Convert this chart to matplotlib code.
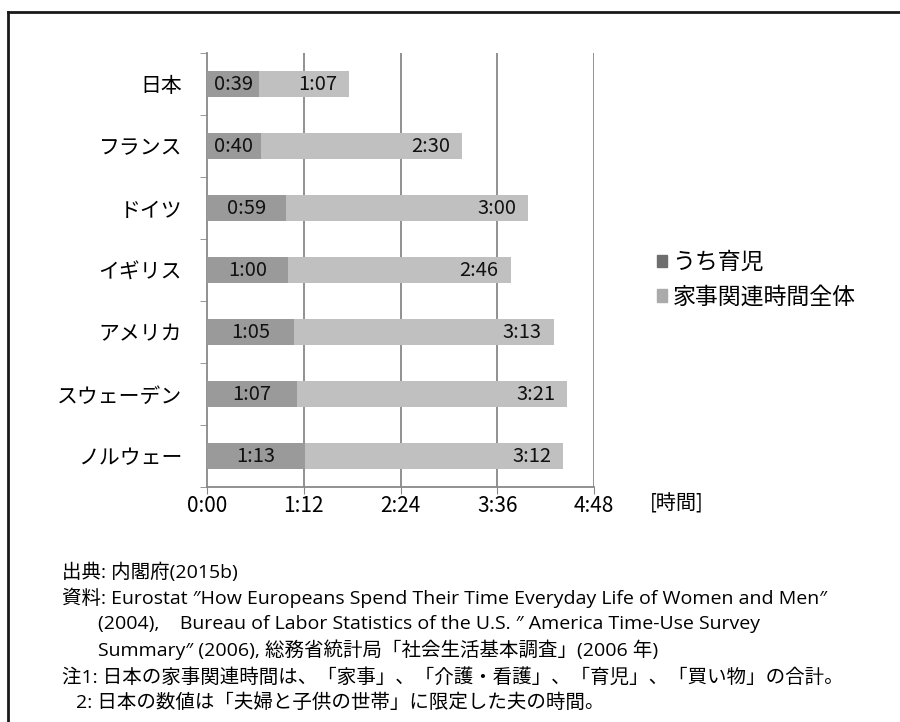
import matplotlib
matplotlib.use("Agg")
import matplotlib.pyplot as plt
from matplotlib.lines import Line2D
from matplotlib.patches import Patch

plt.rcParams['font.family'] = ['Noto Sans CJK JP', 'DejaVu Sans']

countries = ["日本", "フランス", "ドイツ", "イギリス", "アメリカ", "スウェーデン", "ノルウェー"]
childcare = [39, 40, 59, 60, 65, 67, 73]          # minutes
housework = [67, 150, 180, 166, 193, 201, 192]    # minutes
series_names = ["うち育児", "家事関連時間全体"]
xticks = [0, 72, 144, 216, 288]
unit_label = "[時間]"
notes = [
    "出典: 内閣府(2015b)",
    "資料: Eurostat ″How Europeans Spend Their Time Everyday Life of Women and Men″",
    "(2004),    Bureau of Labor Statistics of the U.S. ″ America Time-Use Survey",
    "Summary″ (2006), 総務省統計局「社会生活基本調査」(2006 年)",
    "注1: 日本の家事関連時間は、「家事」、「介護・看護」、「育児」、「買い物」の合計。",
    "2: 日本の数値は「夫婦と子供の世帯」に限定した夫の時間。",
]

def fmt(m):
    return f"{int(m)//60}:{int(m)%60:02d}"

W, H = 900, 722
fig = plt.figure(figsize=(9, 7.22), dpi=100)
ax = fig.add_axes([207/W, 1-487/H, (594-207)/W, (487-53)/H])

dark = "#9a9a9a"
light = "#c0c0c0"
y = list(range(len(countries)))
ax.barh(y, childcare, height=0.42, color=dark, zorder=3)
ax.barh(y, housework, left=childcare, height=0.42, color=light, zorder=3)

for i in y:
    ax.text(childcare[i]/2, i, fmt(childcare[i]), ha='center', va='center',
            fontsize=14.5, zorder=4, color='#111111')
    end = childcare[i] + housework[i]
    ax.annotate(fmt(housework[i]), (end, i), xytext=(-12, 0), textcoords='offset pixels',
                ha='right', va='center', fontsize=14.5, zorder=4, color='#111111')

ax.set_xlim(0, 288)
ax.set_ylim(6.5, -0.5)
ax.set_xticks(xticks)
ax.set_xticklabels([fmt(t) for t in xticks], fontsize=15)
ax.set_yticks(y)
ax.set_yticklabels(countries, fontsize=15)
ax.set_yticks([i - 0.5 for i in range(len(countries) + 1)], minor=True)
ax.tick_params(axis='y', which='major', length=0, pad=18)
ax.tick_params(axis='y', which='minor', length=5, color='#888888', direction='out')
ax.tick_params(axis='x', length=5, color='#888888', pad=1)
for s in ['top', 'right']:
    ax.spines[s].set_visible(False)
for s in ['left', 'bottom']:
    ax.spines[s].set_color('#888888')
    ax.spines[s].set_linewidth(1.3)
for t in xticks[1:]:
    ax.axvline(t, color='#888888', lw=1.3, zorder=1)

fig.text(650/W, 1-504/H, unit_label, fontsize=14.5, va='center', ha='left')

handles = [Patch(color="#6e6e6e"), Patch(color="#aaaaaa")]
fig.legend(handles, series_names, loc='center left', bbox_to_anchor=(636/W, 1-280/H),
           frameon=False, fontsize=16.5, handlelength=0.45, handleheight=0.45,
           handletextpad=0.25, labelspacing=0.5)

xs = [62, 62, 98, 98, 62, 76]
ys = [572, 598, 624, 650, 677, 703]
for t, xx, yy in zip(notes, xs, ys):
    fig.text(xx/W, 1-yy/H, t, fontsize=14, va='center', ha='left',
             family=['Open Sans', 'Noto Sans CJK JP'])

fig.add_artist(Line2D([8/W, 1.0], [1-12/H, 1-12/H], color='#1a1a1a', lw=2, transform=fig.transFigure))
fig.add_artist(Line2D([8/W, 8/W], [1-12/H, 0.0], color='#1a1a1a', lw=2, transform=fig.transFigure))

fig.savefig("out.png", dpi=100)
